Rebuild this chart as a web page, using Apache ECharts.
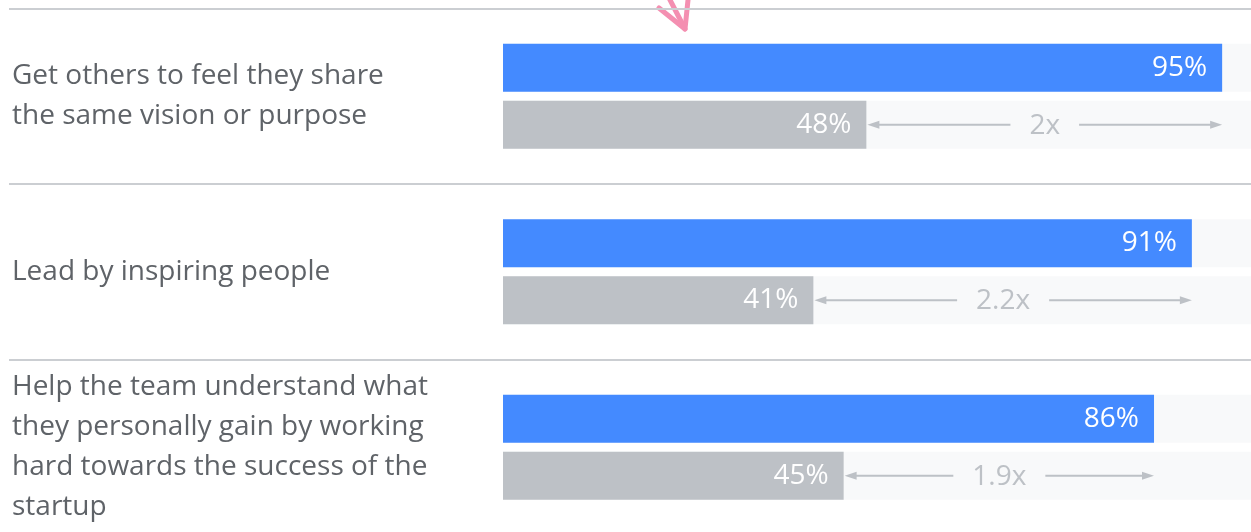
<!DOCTYPE html>
<html>
<head>
<meta charset="utf-8">
<style>
  html, body { margin: 0; padding: 0; background: #ffffff; }
  #chart { width: 1251px; height: 532px; }
</style>
<script src="https://cdn.jsdelivr.net/npm/echarts@6/dist/echarts.min.js"></script>
</head>
<body>
<div id="chart"></div>
<script>
// Leadership behaviours, top performers vs. everyone else
const categories = [
  'Get others to feel they share\nthe same vision or purpose',
  'Lead by inspiring people',
  'Help the team understand what\nthey personally gain by working\nhard towards the success of the\nstartup'
];
const topValues = [95, 91, 86];
const otherValues = [48, 41, 45];
const ratioLabels = ['2x', '2.2x', '1.9x'];

const FONT = '"Open Sans", "Noto Sans", sans-serif';
const FS = 28;
const BLUE = '#448aff';
const GREY = '#bdc1c6';
const TRACK = '#f8f9fa';
const BAR_W = 48;
const BAR_GAP = 9;

const measureCtx = document.createElement('canvas').getContext('2d');
function textWidth(str, size) {
  measureCtx.font = size + 'px ' + FONT;
  return measureCtx.measureText(str).width;
}

const chart = echarts.init(document.getElementById('chart'), null, { renderer: 'canvas' });

const valueLabel = {
  show: true,
  position: 'insideRight',
  distance: 15,
  color: '#ffffff',
  fontSize: FS,
  fontFamily: FONT,
  formatter: p => p.value + '%'
};

// Double-headed arrow with the multiplier between the grey and blue bar ends
function renderRatio(params, api) {
  const idx = api.value(2);
  const a = api.coord([api.value(0), idx]);
  const b = api.coord([api.value(1), idx]);
  const y = a[1] + (BAR_W + BAR_GAP) / 2;
  const x0 = a[0] + 1;
  const x1 = b[0];
  const mid = (x0 + x1) / 2;
  const label = ratioLabels[idx];
  const half = textWidth(label, FS) / 2 + 19;
  const head = 12, hh = 4;
  const stroke = { stroke: GREY, lineWidth: 2 };
  return {
    type: 'group',
    children: [
      { type: 'line', shape: { x1: x0 + head - 1, y1: y, x2: mid - half, y2: y }, style: stroke },
      { type: 'polygon', shape: { points: [[x0, y], [x0 + head, y - hh], [x0 + head, y + hh]] }, style: { fill: GREY } },
      { type: 'line', shape: { x1: mid + half, y1: y, x2: x1 - head + 1, y2: y }, style: stroke },
      { type: 'polygon', shape: { points: [[x1, y], [x1 - head, y - hh], [x1 - head, y + hh]] }, style: { fill: GREY } },
      {
        type: 'text',
        style: {
          x: mid, y: y + 1, text: label,
          fill: GREY, fontSize: FS, fontFamily: FONT,
          align: 'center', verticalAlign: 'middle'
        }
      }
    ]
  };
}

chart.setOption({
  animation: false,
  backgroundColor: '#ffffff',
  grid: [
    { left: 503, width: 757, top: 8.5, height: 526.5, outerBoundsMode: 'none' },
    { left: 9, width: 1251, top: 8.5, height: 526.5, outerBoundsMode: 'none' }
  ],
  xAxis: [
    { gridIndex: 0, type: 'value', min: 0, max: 100, show: false },
    { gridIndex: 1, type: 'value', min: 0, max: 100, show: false }
  ],
  yAxis: [
    { gridIndex: 0, type: 'category', data: categories, inverse: true, show: false },
    {
      gridIndex: 1, type: 'category', data: categories, inverse: true,
      axisLine: { show: false }, axisTick: { show: false },
      splitLine: { show: true, interval: 0, lineStyle: { color: '#cbced2', width: 2 } },
      axisLabel: {
        inside: true, margin: 3, interval: 0,
        align: 'left', verticalAlign: 'middle',
        color: '#5f6368', fontSize: FS, lineHeight: 40, fontFamily: FONT
      }
    }
  ],
  series: [
    {
      name: 'Top', type: 'bar', xAxisIndex: 0, yAxisIndex: 0,
      data: topValues, barWidth: BAR_W, barGap: (BAR_GAP / BAR_W * 100) + '%',
      itemStyle: { color: BLUE },
      showBackground: true, backgroundStyle: { color: TRACK },
      label: valueLabel
    },
    {
      name: 'Others', type: 'bar', xAxisIndex: 0, yAxisIndex: 0,
      data: otherValues, barWidth: BAR_W,
      itemStyle: { color: GREY },
      showBackground: true, backgroundStyle: { color: TRACK },
      label: valueLabel
    },
    {
      name: 'Ratio', type: 'custom', xAxisIndex: 0, yAxisIndex: 0,
      renderItem: renderRatio,
      data: otherValues.map((v, i) => [v, topValues[i], i]),
      z: 5, silent: true
    }
  ],
  graphic: [
    {
      type: 'group', z: 100,
      children: [
        { type: 'polyline', shape: { points: [[668, -4], [685, 29]] }, style: { stroke: '#f48fb1', lineWidth: 5, lineCap: 'round' } },
        { type: 'polyline', shape: { points: [[659, 8], [685, 29], [688, 0]] }, style: { stroke: '#f48fb1', lineWidth: 5, lineCap: 'round', lineJoin: 'round', fill: null } }
      ]
    }
  ]
});
</script>
</body>
</html>
